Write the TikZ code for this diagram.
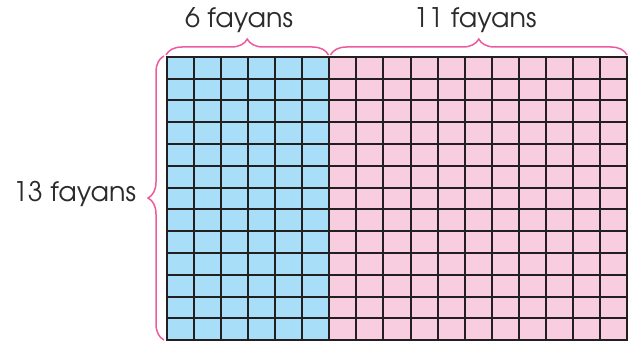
\documentclass[tikz,border=0pt]{standalone}
\usepackage{fontspec}
\setmainfont{TeX Gyre Adventor}
\usetikzlibrary{
  decorations.pathreplacing,
  positioning
}
\definecolor{ink}{HTML}{231F20}
\definecolor{tileblue}{HTML}{A9DEF8}
\definecolor{tilepink}{HTML}{F8CDE0}
\definecolor{bracepink}{HTML}{EC5A9F}
\definecolor{textgrey}{HTML}{2B2B2B}
\tikzset{
  countlabel/.style={
    anchor=base,
    inner sep=0pt,
    text=textgrey,
    font=\fontsize{27}{31}\selectfont
  },
  tilebrace/.style={
    decorate,
    decoration={brace, amplitude=16pt},
    draw=bracepink,
    line width=1.5pt
  },
  tileline/.style={
    draw=ink,
    line width=2pt,
    line cap=rect
  }
}
\begin{document}
\begin{tikzpicture}[x=1pt, y=-1pt]
  \useasboundingbox (0,0) rectangle (629,345);
  % Corners of the tiled wall.
  \coordinate (wallnw) at (167,56.7);
  \coordinate (wallmid) at (329.4,56.7);
  \coordinate (midbot) at (329.4,340.1);
  \coordinate (wallse) at (627.0,340.1);

  % Blue and pink parts.
  \fill[tileblue] (wallnw) rectangle (midbot);
  \fill[tilepink] (wallmid) rectangle (wallse);
  \foreach \col in {0,...,17}
    \draw[tileline] (167+\col*27.06,56.7) -- (167+\col*27.06,340.1);
  \foreach \row in {0,...,13}
    \draw[tileline] (167,56.7+\row*21.8) -- (627.0,56.7+\row*21.8);

  % Braces and their counts.
  \draw[tilebrace] (166,55) -- (328.5,55);
  \draw[tilebrace] (330.5,55) -- (627,55);
  \draw[tilebrace] (164,340) -- (164,56);
  \node[countlabel] (sixtiles) at (239,27.3) {6 fayans};
  \node[countlabel] (eleventiles) at (475,27.3) {11 fayans};
  \node[countlabel] (thirteentiles) at (74.5,201.7) {13 fayans};
\end{tikzpicture}
\end{document}
